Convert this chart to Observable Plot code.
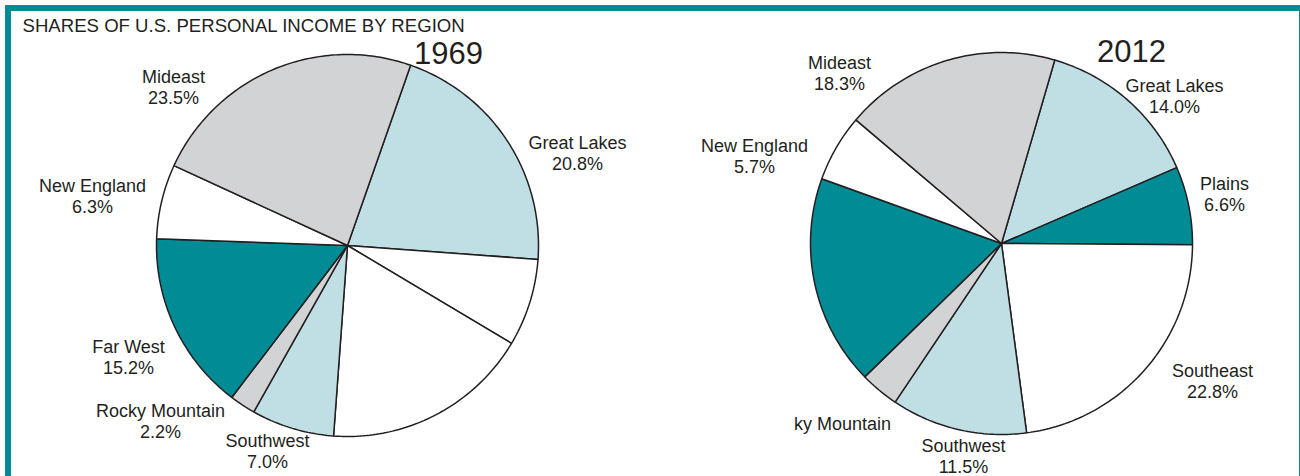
<!DOCTYPE html>
<html><head><meta charset="utf-8">
<script src="https://cdn.jsdelivr.net/npm/d3@7"></script>
<script src="https://cdn.jsdelivr.net/npm/@observablehq/plot@0.6"></script>
<style>
html,body{margin:0;padding:0;background:#fff;}
#wrap{position:relative;width:1300px;height:476px;overflow:hidden;}
#frame{position:absolute;left:5px;top:5px;width:1300px;height:490px;border:6px solid #008b95;box-sizing:border-box;pointer-events:none;}
#chart{position:absolute;left:0;top:0;}
</style></head><body>
<div id="wrap"><div id="chart"></div><div id="frame"></div></div>
<script>
// ---- data ----
const title = "SHARES OF U.S. PERSONAL INCOME BY REGION";
const years = ["1969", "2012"];
const regions = ["Great Lakes", "Plains", "Southeast", "Southwest", "Rocky Mountain", "Far West", "New England", "Mideast"];
const shares1969 = [20.8, 7.4, 17.6, 7.0, 2.2, 15.2, 6.3, 23.5];
const shares2012 = [14.0, 6.6, 22.8, 11.5, 3.3, 17.8, 5.7, 18.3];
const names1969 = ["Great Lakes", null, null, "Southwest", "Rocky Mountain", "Far West", "New England", "Mideast"];
const pcts1969 = ["20.8%", null, null, "7.0%", "2.2%", "15.2%", "6.3%", "23.5%"];
const names2012 = ["Great Lakes", "Plains", "Southeast", "Southwest", "ky Mountain", null, "New England", "Mideast"];
const pcts2012 = ["14.0%", "6.6%", "22.8%", "11.5%", null, null, "5.7%", "18.3%"];

// ---- styles / layout ----
const C = {teal: "#008b95", blue: "#c0dfe5", gray: "#d1d3d4", white: "#ffffff"};
const fills = {
  "1969": [C.blue, C.white, C.white, C.blue, C.gray, C.teal, C.white, C.gray],
  "2012": [C.blue, C.teal, C.white, C.blue, C.gray, C.teal, C.white, C.gray]
};
const pies = {
  "1969": {cx: 347, cy: 245, r: 191, start: 19.3, yearPos: [448, 54]},
  "2012": {cx: 1001, cy: 243, r: 191, start: 16.2, yearPos: [1131, 52]}
};
// label anchor positions (first line), pixel space
const labelPos = {
  "1969": {"Great Lakes": [577, 143], "Southwest": [267, 441], "Rocky Mountain": [160, 411], "Far West": [128, 347], "New England": [92, 186], "Mideast": [173, 77]},
  "2012": {"Great Lakes": [1174, 86], "Plains": [1224, 184], "Southeast": [1212, 371], "Southwest": [963, 446], "Rocky Mountain": [842, 424], "New England": [754, 146], "Mideast": [839, 63]}
};
const lineGap = 21;

function buildSlices(year, values) {
  const {cx, cy, r, start} = pies[year];
  const total = d3.sum(values);
  const pts = [];
  let a = start;
  values.forEach((v, i) => {
    const a0 = a, a1 = a + v / total * 360; a = a1;
    const key = year + "-" + regions[i];
    const fill = fills[year][i];
    pts.push({key, x: cx, y: cy, fill});
    const n = Math.max(2, Math.ceil(a1 - a0));
    for (let k = 0; k <= n; k++) {
      const t = (a0 + (a1 - a0) * k / n) * Math.PI / 180;
      pts.push({key, x: cx + r * Math.sin(t), y: cy - r * Math.cos(t), fill});
    }
    pts.push({key, x: cx, y: cy, fill});
  });
  return pts;
}
function buildLabels(year, names, pcts) {
  const out = [];
  regions.forEach((reg, i) => {
    const p = labelPos[year][reg];
    if (!p) return;
    if (names[i]) out.push({x: p[0], y: p[1], text: names[i]});
    if (pcts[i]) out.push({x: p[0], y: p[1] + lineGap, text: pcts[i]});
  });
  return out;
}

const slices = [...buildSlices("1969", shares1969), ...buildSlices("2012", shares2012)];
const labels = [...buildLabels("1969", names1969, pcts1969), ...buildLabels("2012", names2012, pcts2012)];
const yearLabels = years.map(y => ({x: pies[y].yearPos[0], y: pies[y].yearPos[1], text: y}));

const font = "'Liberation Sans', Arial, Helvetica, sans-serif";
const chart = Plot.plot({
  width: 1300, height: 476,
  margin: 0,
  x: {domain: [0, 1300], range: [0, 1300], axis: null},
  y: {domain: [0, 476], range: [0, 476], axis: null},
  color: {type: "identity"},
  style: {fontFamily: font, background: "transparent", color: "#231f20"},
  marks: [
    Plot.line(slices, {x: "x", y: "y", z: "key", fill: "fill", stroke: "#231f20", strokeWidth: 1.5, strokeLinejoin: "miter", curve: "linear"}),
    Plot.text(labels, {x: "x", y: "y", text: "text", fontSize: 18, fill: "#231f20", textAnchor: "middle"}),
    Plot.text(yearLabels, {x: "x", y: "y", text: "text", fontSize: 31, fill: "#231f20", textAnchor: "middle"}),
    Plot.text([title], {x: () => 22, y: () => 25.5, text: d => d, fontSize: 18.6, fill: "#231f20", textAnchor: "start"})
  ]
});
document.getElementById("chart").appendChild(chart);
</script>
</body></html>
